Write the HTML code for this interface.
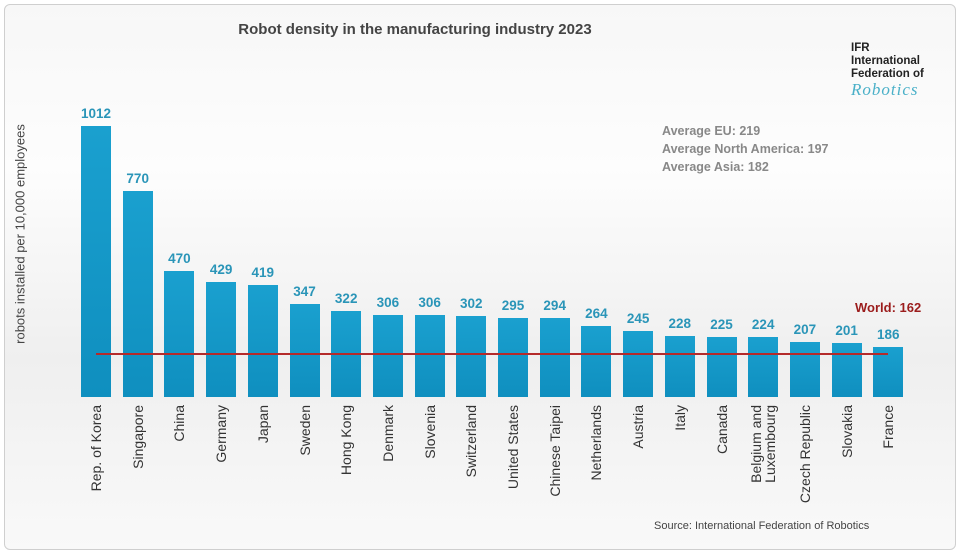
<!DOCTYPE html>
<html><head><meta charset="utf-8"><style>
html,body{margin:0;background:#fff;overflow:hidden;width:960px;height:554px;}
#c{position:relative;width:960px;height:554px;overflow:hidden;font-family:"Liberation Sans",sans-serif;}
.frame{position:absolute;left:4px;top:4px;width:950px;height:544px;border:1px solid #cfcfcf;border-radius:6px;background:linear-gradient(180deg,#f7f7f7 0%,#fdfdfd 30%,#efefef 65%,#f9f9f9 100%);}
.bar{position:absolute;width:30px;background:linear-gradient(180deg,#1aa0cf,#0f8fbf);}
.val{position:absolute;width:50px;text-align:center;font-weight:bold;font-size:13.5px;color:#2a95b8;}
.lab{position:absolute;font-size:14px;color:#333;transform:rotate(-90deg);transform-origin:right top;text-align:right;white-space:nowrap;line-height:14px;}
</style></head><body><div id="c"><div class="frame"></div>
<div style="position:absolute;left:0;width:830px;top:21px;text-align:center;font-weight:bold;font-size:15px;color:#444">Robot density in the manufacturing industry 2023</div>
<div style="position:absolute;left:851px;top:42px;font-weight:bold;font-size:11.5px;line-height:13px;color:#222">IFR<br>International<br>Federation of</div>
<div style="position:absolute;left:851px;top:80px;font-style:italic;font-family:'Liberation Serif',serif;font-size:17px;color:#4ab0c8;letter-spacing:1px">Robotics</div>
<div style="position:absolute;left:662px;top:122px;font-weight:bold;font-size:12.5px;line-height:18px;color:#888">Average EU: 219<br>Average North America: 197<br>Average Asia: 182</div>
<div style="position:absolute;left:855px;top:300px;font-weight:bold;font-size:13px;color:#9b1c1c">World: 162</div>
<div style="position:absolute;left:20px;top:234px;width:0;height:0"><div style="position:absolute;transform:translate(-50%,-50%) rotate(-90deg);white-space:nowrap;font-size:13px;color:#444">robots installed per 10,000 employees</div></div>
<div style="position:absolute;left:654px;top:520px;font-size:11px;color:#444">Source: International Federation of Robotics</div>
<div id="bars"></div>
<div style="position:absolute;left:96px;top:353px;width:792px;height:2px;background:#b52a2a"></div>
</div>
<script>
var d=[["Rep. of Korea",1012],["Singapore",770],["China",470],["Germany",429],["Japan",419],["Sweden",347],["Hong Kong",322],["Denmark",306],["Slovenia",306],["Switzerland",302],["United States",295],["Chinese Taipei",294],["Netherlands",264],["Austria",245],["Italy",228],["Canada",225],["Belgium and<br>Luxembourg",224],["Czech Republic",207],["Slovakia",201],["France",186]];
var h="";d.forEach(function(e,i){var x=81+i*41.7,ht=e[1]*0.2678,t=397-ht;
h+='<div class="bar" style="left:'+x+'px;top:'+t+'px;height:'+ht+'px"></div>';
h+='<div class="val" style="left:'+(x-10)+'px;top:'+(t-20)+'px">'+e[1]+'</div>';
var two=e[0].indexOf("<br>")>0;
h+='<div class="lab" style="left:'+(x+15-(two?14:7)-120)+'px;top:405px;width:120px">'+e[0]+'</div>';});
document.getElementById("bars").innerHTML=h;
</script></body></html>
